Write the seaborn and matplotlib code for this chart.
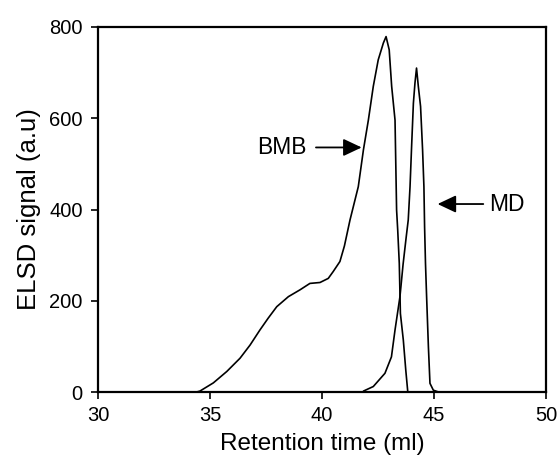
import matplotlib
matplotlib.use("Agg")
import matplotlib.pyplot as plt
import seaborn as sns
import pandas as pd

# BMB trace
bmb_x = [34.4, 34.55, 35.15, 35.75, 36.34, 36.79, 37.23, 37.6, 37.98, 38.5, 39.02, 39.46,
         39.91, 40.28, 40.5, 40.8, 41.0, 41.25, 41.62, 41.85, 42.07, 42.29, 42.51, 42.74,
         42.86, 43.0, 43.11, 43.26, 43.33, 43.38, 43.45, 43.5, 43.63, 43.74, 43.83]
bmb_y = [0, 2, 20, 45, 74, 103, 136, 162, 187, 209, 224, 238,
         240, 249, 264, 286, 320, 377, 450, 531, 596, 670, 728, 765,
         779, 750, 670, 596, 399, 355, 282, 172, 114, 48, 0]

# MD trace
md_x = [41.85, 42.29, 42.81, 43.1, 43.26, 43.48, 43.62, 43.76, 43.85, 43.93, 44.0, 44.08,
        44.15, 44.22, 44.3, 44.4, 44.49, 44.55, 44.58, 44.62, 44.67, 44.75, 44.82, 44.97, 45.2]
md_y = [2, 12, 41, 77, 136, 209, 280, 340, 377, 450, 538, 633,
        677, 710, 670, 626, 531, 450, 362, 282, 209, 99, 19, 4, 0]

x_ticks = [30, 35, 40, 45, 50]
y_ticks = [0, 200, 400, 600, 800]

sns.set_theme(style="white")
plt.rcParams['font.family'] = ['Liberation Sans', 'DejaVu Sans']
plt.rcParams['text.color'] = 'black'

df = pd.concat([
    pd.DataFrame({"x": bmb_x, "y": bmb_y, "s": "BMB"}),
    pd.DataFrame({"x": md_x, "y": md_y, "s": "MD"}),
])

fig = plt.figure(figsize=(5.58, 4.66), dpi=100)
ax = fig.add_axes([98/558, 1-392/466, (546-98)/558, (392-27)/466])
sns.lineplot(data=df, x="x", y="y", units="s", estimator=None, color="black",
             linewidth=1.2, ax=ax, legend=False)

ax.set_xlim(30, 50)
ax.set_ylim(0, 800)
ax.set_xticks(x_ticks)
ax.set_yticks(y_ticks)
ax.tick_params(axis="both", direction="out", length=5, width=1.2, labelsize=14.5,
               colors="black", bottom=True, left=True)
ax.tick_params(axis="y", pad=6)
ax.tick_params(axis="x", pad=5)
for sp in ax.spines.values():
    sp.set_visible(True)
    sp.set_color("black")
    sp.set_linewidth(1.6)
ax.set_xlabel("Retention time (ml)", fontsize=17.5, color="black", labelpad=6)
ax.set_ylabel("ELSD signal (a.u)", fontsize=18.5, color="black", labelpad=6)

arrow = dict(arrowstyle="-|>,head_length=0.7,head_width=0.33", color="black", lw=1.3,
             mutation_scale=16, shrinkA=0, shrinkB=0)
ax.text(39.3, 536, "BMB", fontsize=16.5, ha="right", va="center", color="black")
ax.annotate("", xy=(41.77, 536), xytext=(39.73, 536), arrowprops=arrow)
ax.text(47.47, 412, "MD", fontsize=16.5, ha="left", va="center", color="black")
ax.annotate("", xy=(45.16, 412), xytext=(47.2, 412), arrowprops=arrow)

fig.savefig("out.png", dpi=100)
